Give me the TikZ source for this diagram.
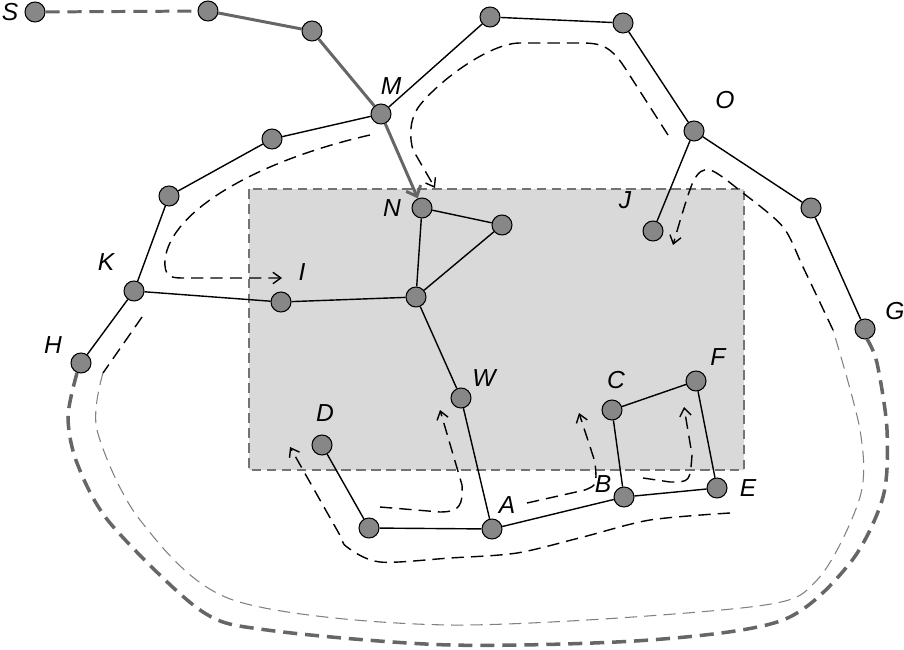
\documentclass[tikz,border=0pt]{standalone}
\usepackage{fontspec}
\setmainfont{Liberation Sans}
\usepackage{tikz}
\usetikzlibrary{arrows,arrows.meta,calc}

\tikzset{
  vtx/.style={circle,draw=black,fill=black!47,minimum size=0.4cm,inner sep=0pt,line width=0.6pt},
  lbl/.style={font=\fontsize{14}{16}\selectfont\itshape,inner sep=1pt},
  edge/.style={line width=0.8pt},
  grayedge/.style={line width=1.7pt,color=black!60},
  route/.style={line width=0.8pt,dash pattern=on 7pt off 4pt,>={Straight Barb[length=4.5pt,width=6.5pt]}},
}

\begin{document}
\begin{tikzpicture}[scale=2]
%\draw[help lines] (0,-6.5) grid (9.04,0);
\useasboundingbox (0,0) rectangle (9.04,-6.5);

\draw[fill=black!15,draw=black!55,line width=0.8pt,dash pattern=on 5.5pt off 3pt] (2.49,-1.89) rectangle (7.44,-4.70);

% vertices
\node[vtx] (S) at (0.35,-0.12) {};
\node[vtx] (s2) at (2.08,-0.11) {};
\node[vtx] (s3) at (3.12,-0.31) {};
\node[vtx] (M) at (3.81,-1.14) {};
\node[vtx] (m1) at (2.72,-1.39) {};
\node[vtx] (m2) at (1.69,-1.96) {};
\node[vtx] (K) at (1.34,-2.91) {};
\node[vtx] (H) at (0.81,-3.63) {};
\node[vtx] (t1) at (4.90,-0.17) {};
\node[vtx] (t2) at (6.23,-0.23) {};
\node[vtx] (O) at (6.94,-1.31) {};
\node[vtx] (r1) at (8.11,-2.08) {};
\node[vtx] (G) at (8.65,-3.29) {};
\node[vtx] (J) at (6.53,-2.31) {};
\node[vtx] (N) at (4.22,-2.08) {};
\node[vtx] (p) at (5.02,-2.25) {};
\node[vtx] (q) at (4.16,-2.97) {};
\node[vtx] (I) at (2.81,-3.02) {};
\node[vtx] (W) at (4.61,-3.98) {};
\node[vtx] (A) at (4.92,-5.29) {};
\node[vtx] (D) at (3.22,-4.45) {};
\node[vtx] (d2) at (3.69,-5.28) {};
\node[vtx] (B) at (6.24,-4.97) {};
\node[vtx] (E) at (7.17,-4.88) {};
\node[vtx] (C) at (6.12,-4.10) {};
\node[vtx] (F) at (6.96,-3.81) {};

% labels
\node[lbl] (lS) at (0.10,-0.12) {S};
\node[lbl] (lM) at (3.91,-0.86) {M};
\node[lbl] (lK) at (1.06,-2.62) {K};
\node[lbl] (lH) at (0.53,-3.45) {H};
\node[lbl] (lO) at (7.25,-1.00) {O};
\node[lbl] (lG) at (8.95,-3.11) {G};
\node[lbl] (lJ) at (6.25,-2.00) {J};
\node[lbl] (lN) at (3.92,-2.08) {N};
\node[lbl] (lI) at (3.02,-2.72) {I};
\node[lbl] (lW) at (4.84,-3.78) {W};
\node[lbl] (lA) at (5.07,-5.05) {A};
\node[lbl] (lD) at (3.25,-4.13) {D};
\node[lbl] (lB) at (6.03,-4.84) {B};
\node[lbl] (lE) at (7.48,-4.88) {E};
\node[lbl] (lC) at (6.16,-3.80) {C};
\node[lbl] (lF) at (7.18,-3.57) {F};

% edges
\draw[grayedge,dash pattern=on 8pt off 4.5pt] (S)--(s2);
\draw[grayedge] (s2)--(s3)--(M);
\draw[grayedge,-{Straight Barb[length=5pt,width=9pt]}] (M)--(N);
\draw[edge] (M)--(m1)--(m2)--(K)--(H);
\draw[edge] (M)--(t1)--(t2)--(O)--(r1)--(G);
\draw[edge] (O)--(J);
\draw[edge] (K)--(I)--(q);
\draw[edge] (N)--(p)--(q)--(N);
\draw[edge] (q)--(W)--(A);
\draw[edge] (D)--(d2)--(A)--(B)--(E)--(F)--(C)--(B);

% routes
\draw[route,->] (3.70,-1.35) .. controls (2.6,-1.6) and (1.7,-2.1) .. (1.65,-2.6) .. controls (1.64,-2.76) and (1.7,-2.78) .. (1.82,-2.78) -- (2.82,-2.78);
\draw[route,->] (6.68,-1.35) -- (6.25,-0.68) .. controls (6.10,-0.45) and (6.0,-0.43) .. (5.80,-0.43) -- (5.20,-0.43) .. controls (4.9,-0.43) and (4.4,-0.8) .. (4.2,-1.05) .. controls (4.08,-1.2) and (4.1,-1.4) .. (4.13,-1.5) -- (4.35,-1.88);
\draw[route] (1.42,-3.17) -- (1.03,-3.73);
\draw[route,color=black!50,line width=0.6pt] plot[smooth] coordinates {(1.03,-3.73) (0.97,-4.30) (1.40,-5.20) (2.33,-6.00) (4.50,-6.25) (7.50,-6.07) (8.17,-5.80) (8.60,-4.97) (8.60,-4.30) (8.33,-3.30)};
\draw[route,->] plot[smooth] coordinates {(8.33,-3.30) (8.03,-2.67) (7.83,-2.27) (7.43,-1.93) (7.10,-1.70) (6.93,-1.82) (6.73,-2.45)};
\draw[grayedge,line width=2pt,dash pattern=on 8pt off 4.5pt] plot[smooth] coordinates {(0.77,-3.73) (0.68,-4.17) (0.77,-4.63) (1.10,-5.23) (2.00,-6.10) (2.67,-6.30) (4.50,-6.45) (6.50,-6.40) (7.83,-6.20) (8.50,-5.63) (8.83,-4.97) (8.87,-4.30) (8.77,-3.63) (8.67,-3.39)};
\draw[route,->] plot[smooth] coordinates {(7.30,-5.13) (6.50,-5.20) (5.83,-5.37) (5.17,-5.53) (4.50,-5.58) (3.80,-5.62) (3.47,-5.47) (3.37,-5.30) (2.90,-4.47)};
\draw[route,->] (3.80,-5.07) -- (4.40,-5.12) .. controls (4.60,-5.12) and (4.63,-5.05) .. (4.62,-4.85) -- (4.40,-4.10);
\draw[route,->] (5.27,-5.03) -- (5.85,-4.90) .. controls (5.97,-4.85) .. (5.95,-4.62) -- (5.79,-4.13);
\draw[route,->] (6.43,-4.78) -- (6.70,-4.82) .. controls (6.90,-4.82) .. (6.92,-4.55) -- (6.84,-4.07);
\end{tikzpicture}
\end{document}
